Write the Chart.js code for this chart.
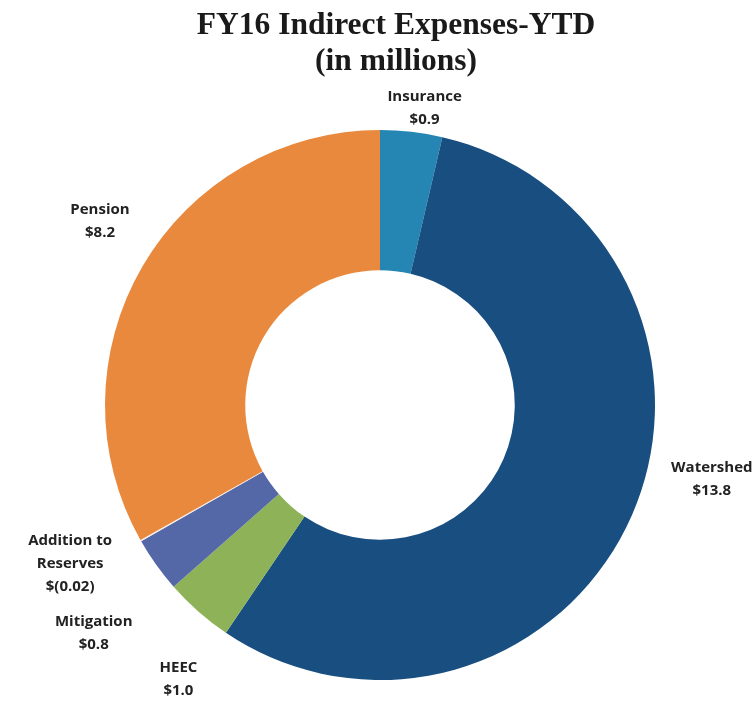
<!DOCTYPE html>
<html>
<head>
<meta charset="utf-8">
<script src="https://cdn.jsdelivr.net/npm/chart.js@4.4.1/dist/chart.umd.min.js"></script>
<style>
  html, body { margin: 0; padding: 0; background: #fff; }
  .chartBox { position: relative; width: 756px; height: 707px; }
  .chartTitle {
    position: absolute;
    top: 6px;
    left: 0;
    width: 792px;
    text-align: center;
    font: bold 31.5px/36px "Liberation Serif", "Times New Roman", serif;
    color: #1a1a1a;
  }
</style>
</head>
<body>
<div class="chartBox">
  <canvas id="chart" width="756" height="707"></canvas>
  <div class="chartTitle">FY16 Indirect Expenses-YTD<br>(in millions)</div>
</div>
<script>
// slices in clockwise order starting at 12 o'clock
const categories = ["Insurance", "Watershed", "HEEC", "Mitigation", ["Addition to", "Reserves"], "Pension"];
const expenses = [0.9, 13.8, 1.0, 0.8, -0.02, 8.2]; // $ millions
const sliceColours = ["#2586b4", "#184f80", "#8db257", "#5468a8", "#f6eee6", "#e9893d"];

// label placement tweaks: [angle shift in degrees, distance beyond outer edge in px]
const labelPlacement = [[2, 25], [-11, 65], [-5, 65], [-3, 91], [2.5, 73], [3, 60]];

function fmtMoney(v) {
  const a = Math.abs(v);
  const s = a < 0.1 ? a.toFixed(2) : a.toFixed(1);
  return v < 0 ? "$(" + s + ")" : "$" + s;
}

// draws the outside data labels, anchored on each arc's mid angle
const outsideLabels = {
  id: "outsideLabels",
  afterDatasetsDraw(chart) {
    const ctx = chart.ctx;
    const meta = chart.getDatasetMeta(0);
    ctx.save();
    ctx.font = "bold 15px 'Open Sans'";
    ctx.fillStyle = "#222";
    ctx.textAlign = "center";
    ctx.textBaseline = "middle";
    meta.data.forEach((arc, i) => {
      const p = arc.getProps(["x", "y", "startAngle", "endAngle", "outerRadius"], true);
      const [shift, extra] = labelPlacement[i];
      const ang = (p.startAngle + p.endAngle) / 2 + shift * Math.PI / 180;
      const r = p.outerRadius + extra;
      const cx = p.x + r * Math.cos(ang);
      const cy = p.y + r * Math.sin(ang);
      const name = chart.data.labels[i];
      const lines = (Array.isArray(name) ? name : [name]).concat(fmtMoney(expenses[i]));
      const lh = 23;
      lines.forEach((t, k) => {
        ctx.fillText(t, cx, cy + (k - (lines.length - 1) / 2) * lh);
      });
    });
    ctx.restore();
  }
};

new Chart(document.getElementById("chart"), {
  type: "doughnut",
  data: {
    labels: categories,
    datasets: [{
      data: expenses,
      backgroundColor: sliceColours,
      borderWidth: 0
    }]
  },
  options: {
    responsive: false,
    animation: false,
    maintainAspectRatio: false,
    cutout: "49%",
    layout: { padding: { top: 130, bottom: 27, left: 4 } },
    plugins: {
      legend: { display: false },
      tooltip: { enabled: false },
      title: { display: false }
    }
  },
  plugins: [outsideLabels]
});
</script>
</body>
</html>
